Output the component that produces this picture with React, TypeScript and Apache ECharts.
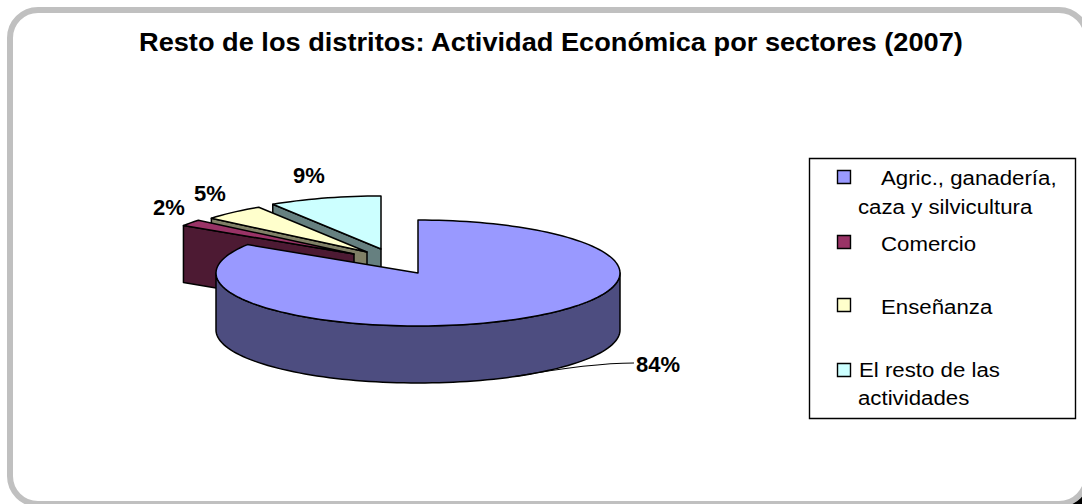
import React, { useEffect, useRef } from "react";
import * as echarts from "echarts";

const titleText = "Resto de los distritos: Actividad Económica por sectores (2007)";
const categories = ["Agric., ganadería,\ncaza y silvicultura", "Comercio", "Enseñanza", "El resto de las\nactividades"];
const values = [84, 2, 5, 9];
const valueLabels = ["84%", "2%", "5%", "9%"];

const topColors = ["#9999ff", "#993366", "#ffffcc", "#ccffff"];
const wallColors = ["#4d4d80", "#4d1a33", "#808066", "#668080"];

// layout
const W = 1082, H = 504;
const CX = 418, CY = 273, RX = 202, RY = 53, DEPTH = 57;
const explodeOffsets = [[0, 0], [-64, -19], [-51, -21], [-37, -24]];
const labelPos = [[658, 364], [169, 207], [210, 193], [309, 175]];
const FONT = "'Liberation Sans', Arial, sans-serif";
const legendSwatchY = [177, 242, 305, 370];
const legendLines = [
  [[881, 178], [858, 207]],
  [[881, 244]],
  [[881, 307]],
  [[859, 370], [858, 398]],
];

const total = values.reduce((a, b) => a + b, 0);
const startAngles = values.map((_, i) => (values.slice(0, i).reduce((a, b) => a + b, 0) / total) * 360);

const rad = (d: number) => (d * Math.PI) / 180;

function renderSlice(_: any, api: any) {
  const i = api.value(1) as number;
  const v = api.value(0) as number;
  const start = startAngles[i];
  const end = start + (v / total) * 360;
  const [dx, dy] = explodeOffsets[i];
  const ax = CX + dx, ay = CY + dy;
  const pt = (t: number, drop = 0) => [ax + RX * Math.sin(rad(t)), ay - RY * Math.cos(rad(t)) + drop];
  const arc = (a: number, b: number, drop = 0) => {
    const pts: number[][] = [];
    const n = Math.max(2, Math.ceil(Math.abs(b - a) / 2));
    for (let k = 0; k <= n; k++) pts.push(pt(a + ((b - a) * k) / n, drop));
    return pts;
  };
  const stroke = { stroke: "#000", lineWidth: 1.5, lineJoin: "round" };
  const children: any[] = [];

  // cut wall at the start of the slice (only visible for exploded slices)
  if (dx !== 0 || dy !== 0) {
    children.push({
      type: "polygon",
      shape: { points: [[ax, ay], pt(start), pt(start, DEPTH), [ax, ay + DEPTH]] },
      style: { fill: wallColors[i], ...stroke },
    });
  }
  // outer wall, front-facing part
  const a = Math.max(start, 90), b = Math.min(end, 270);
  if (b > a) {
    children.push({
      type: "polygon",
      shape: { points: [...arc(a, b), ...arc(b, a, DEPTH)] },
      style: { fill: wallColors[i], ...stroke },
    });
  }
  // top face
  children.push({
    type: "polygon",
    shape: { points: [[ax, ay], ...arc(start, end)] },
    style: { fill: topColors[i], ...stroke },
  });
  // data label
  const [lx, ly] = labelPos[i];
  children.push({
    type: "text",
    z2: 50,
    style: {
      x: lx, y: ly, text: valueLabels[i], fill: "#000",
      font: `bold 22px ${FONT}`, align: "center", verticalAlign: "middle",
    },
  });
  // leader line for the largest slice
  if (v / total > 0.5) {
    const mid = (start + end) / 2;
    const s = pt(mid, DEPTH);
    children.push({
      type: "bezierCurve",
      z2: 50,
      shape: { x1: s[0], y1: s[1], x2: lx - 24, y2: ly - 1, cpx1: s[0] + 45, cpy1: s[1] - 8, cpx2: lx - 60, cpy2: ly - 1 },
      style: { stroke: "#000", lineWidth: 1.2, fill: "none" },
    });
  }
  return { type: "group", children };
}

const legendGraphics = () => {
  const els: any[] = [
    {
      type: "rect", z: 1,
      shape: { x: 809.5, y: 158.5, width: 266, height: 260 },
      style: { fill: "#fff", stroke: "#000", lineWidth: 1.4 },
    },
  ];
  categories.forEach((name, i) => {
    els.push({
      type: "rect", z: 2,
      shape: { x: 837.5, y: legendSwatchY[i] - 6.5, width: 13, height: 13 },
      style: { fill: topColors[i], stroke: "#000", lineWidth: 1.4 },
    });
    name.split("\n").forEach((line, j) => {
      const [x, y] = legendLines[i][j];
      els.push({
        type: "text", z: 2, x, y, scaleX: 1.06,
        style: { text: line, fill: "#000", font: `21px ${FONT}`, textAlign: "left", textVerticalAlign: "middle" },
      });
    });
  });
  return els;
};

export default function App() {
  const ref = useRef<HTMLDivElement>(null);
  useEffect(() => {
    const chart = echarts.init(ref.current!, undefined, { renderer: "svg" });
    chart.setOption({
      animation: false,
      backgroundColor: "#fff",
      graphic: [
        {
          type: "rect", z: -2,
          shape: { x: 15, y: 15, width: 1085, height: 494, r: 30 },
          style: { fill: "#000" },
        },
        {
          type: "rect", z: -1,
          shape: { x: 10, y: 10, width: 1077, height: 494, r: 28 },
          style: { fill: "#fff", stroke: "#c0c0c0", lineWidth: 6 },
        },
        {
          type: "text", z: 2, x: 139, y: 42, scaleX: 1.088,
          style: { text: titleText, fill: "#000", font: `bold 25px ${FONT}`, textAlign: "left", textVerticalAlign: "middle" },
        },
        ...legendGraphics(),
      ],
      series: [
        {
          type: "custom",
          coordinateSystem: "none",
          silent: true,
          renderItem: renderSlice,
          // painter's order: back slices first, largest slice last
          data: values.map((v, i) => [v, i]).reverse(),
          encode: { value: 0 },
        },
      ],
    });
    return () => chart.dispose();
  }, []);
  return <div ref={ref} style={{ position: "absolute", left: 0, top: 0, width: W, height: H }} />;
}
